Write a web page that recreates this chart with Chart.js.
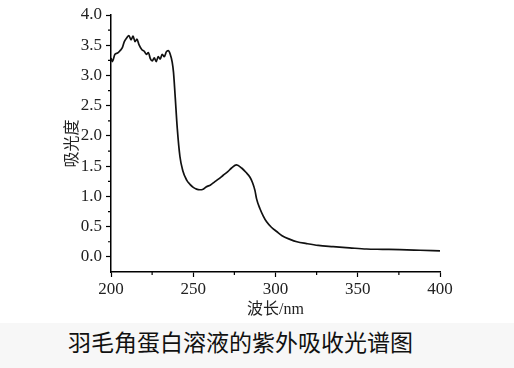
<!DOCTYPE html>
<html>
<head>
<meta charset="utf-8">
<script src="https://cdn.jsdelivr.net/npm/chart.js@4/dist/chart.umd.min.js"></script>
<style>
  html, body { margin: 0; padding: 0; background: #fff; }
  #wrap { position: relative; width: 514px; height: 368px; overflow: hidden; }
  #plot { position: absolute; left: 0; top: 0; width: 514px; height: 322px; }
  #cap {
    position: absolute; left: 0; top: 323px; width: 514px; height: 45px;
    background: #f7f7f7; color: #111;
  }
  #cap span {
    position: absolute; left: 68px; top: 2px; line-height: 32px;
    font-family: "Noto Sans CJK SC", sans-serif; font-size: 23px;
  }
</style>
</head>
<body>
<div id="wrap">
  <div id="plot"><canvas id="uv-chart" width="514" height="322"></canvas></div>
  <div id="cap"><span>羽毛角蛋白溶液的紫外吸收光谱图</span></div>
</div>
<script>
// wavelength (nm) and absorbance
var wavelength = [200, 200.8, 202.4, 204, 205.5, 206.9, 208.1, 209.5, 210.9, 212.2, 213.4, 214.6, 215.8, 217, 218.7, 220.2, 221.5, 222.7, 223.9, 225.1, 226.3, 227.5, 228.7, 229.9, 231.1, 232.4, 233.6, 234.8, 236, 237.2, 238, 238.9, 240.3, 241.9, 243.6, 246, 248, 250, 252, 254, 256, 258, 260.5, 263, 265.5, 268.2, 271, 273.3, 276.3, 279.4, 282, 284.4, 286, 287.5, 288.5, 290.5, 292.5, 294.6, 297.5, 300.7, 304, 308.8, 313, 318.9, 326, 335, 345, 355.3, 365, 375.6, 388, 400];
var absorbance = [3.29, 3.23, 3.35, 3.37, 3.41, 3.46, 3.56, 3.62, 3.66, 3.59, 3.65, 3.56, 3.60, 3.51, 3.43, 3.40, 3.35, 3.38, 3.28, 3.24, 3.29, 3.23, 3.31, 3.27, 3.35, 3.31, 3.39, 3.41, 3.35, 3.22, 3.05, 2.70, 2.12, 1.66, 1.43, 1.27, 1.20, 1.15, 1.12, 1.11, 1.12, 1.16, 1.19, 1.24, 1.29, 1.35, 1.41, 1.47, 1.52, 1.47, 1.40, 1.32, 1.23, 1.10, 0.96, 0.80, 0.68, 0.58, 0.49, 0.42, 0.35, 0.29, 0.25, 0.22, 0.19, 0.17, 0.15, 0.13, 0.125, 0.12, 0.11, 0.10];

var xTicks = [200, 250, 300, 350, 400];
var yTicks = [0, 0.5, 1.0, 1.5, 2.0, 2.5, 3.0, 3.5, 4.0];
var xTitle = '波长/nm';
var yTitle = '吸光度';

var serif = '"Liberation Serif", serif';
Chart.defaults.font.family = serif;
var points = wavelength.map(function(w, i){ return {x: w, y: absorbance[i]}; });

// small minor ticks halfway between the labelled ones
var minorTicks = {
    id: 'minorTicks',
    afterDraw: function(chart){
        var c = chart.ctx;
        var xs = chart.scales.x, ys = chart.scales.y;
        c.save();
        c.strokeStyle = '#000';
        c.lineWidth = 1.2;
        c.beginPath();
        for (var i = 0; i < xTicks.length - 1; i++) {
            var px = xs.getPixelForValue((xTicks[i] + xTicks[i+1]) / 2);
            c.moveTo(px, ys.bottom);
            c.lineTo(px, ys.bottom + 3);
        }
        for (var j = 0; j < yTicks.length - 1; j++) {
            var py = ys.getPixelForValue((yTicks[j] + yTicks[j+1]) / 2);
            c.moveTo(xs.left, py);
            c.lineTo(xs.left - 3, py);
        }
        c.stroke();
        c.restore();
    }
};

var ctx = document.getElementById('uv-chart').getContext('2d');
var chart = new Chart(ctx, {
    type: 'line',
    data: {
        datasets: [{
            data: points,
            borderColor: '#111',
            borderWidth: 1.7,
            pointRadius: 0,
            fill: false,
            cubicInterpolationMode: 'monotone'
        }]
    },
    plugins: [minorTicks],
    options: {
        responsive: false,
        animation: false,
        layout: { padding: { top: 15, right: 74, left: 61, bottom: 0 } },
        plugins: { legend: { display: false }, tooltip: { enabled: false } },
        scales: {
            x: {
                type: 'linear',
                min: 200, max: 400,
                afterBuildTicks: function(s){ s.ticks = xTicks.map(function(v){ return {value: v}; }); },
                afterFit: function(s){ s.height = 50; },
                grid: { drawOnChartArea: false, tickLength: 5, tickColor: '#000', tickWidth: 1.2 },
                border: { color: '#000', width: 1.5 },
                ticks: {
                    color: '#222', padding: 2, maxRotation: 0,
                    font: { family: serif, size: 17 },
                    callback: function(v){ return v; }
                },
                title: {
                    display: true, text: xTitle, color: '#222', padding: { top: 0, bottom: 3 },
                    font: { family: '"Liberation Serif", "Noto Sans CJK SC", serif', size: 16 }
                }
            },
            y: {
                min: -0.25, max: 4.0,
                afterBuildTicks: function(s){ s.ticks = yTicks.map(function(v){ return {value: v}; }); },
                afterFit: function(s){ s.width = 50; },
                grid: { drawOnChartArea: false, tickLength: 5, tickColor: '#000', tickWidth: 1.2 },
                border: { color: '#000', width: 1.5 },
                ticks: {
                    color: '#222', padding: 4,
                    font: { family: serif, size: 17 },
                    callback: function(v){ return v.toFixed(1); }
                },
                title: {
                    display: true, text: yTitle, color: '#222', padding: { top: 0, bottom: 0 },
                    font: { family: '"Noto Sans CJK SC", sans-serif', size: 16 }
                }
            }
        }
    }
});
</script>
</body>
</html>
